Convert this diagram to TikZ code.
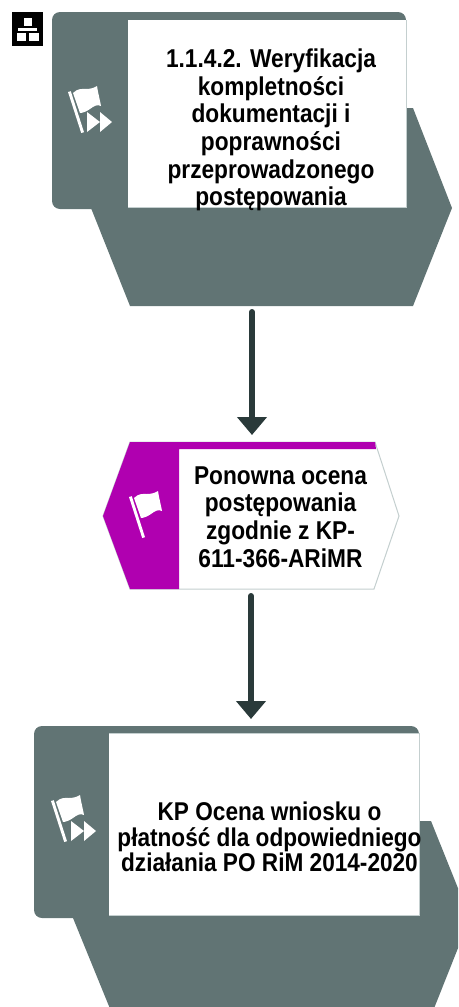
\documentclass[tikz,border=0pt]{standalone}
\usepackage{fontspec}
\setmainfont{Liberation Sans}
\newfontfamily\narrowbold[FakeStretch=0.88,BoldFont={Liberation Sans Bold}]{Liberation Sans Bold}
\usetikzlibrary{arrows.meta}
\definecolor{slate}{HTML}{617474}
\definecolor{plum}{HTML}{B000B0}
\definecolor{ink}{HTML}{2A3A3A}
\definecolor{edgegray}{HTML}{C4CFCF}
\tikzset{
  x=1pt,y=-1pt,
  slatefill/.style={fill=slate,draw=none},
  whitepanel/.style={fill=white,draw=none},
  panelrim/.style={draw=edgegray,line width=1pt},
  label/.style={font=\narrowbold\fontsize{25.8}{27.6}\selectfont,align=center,text=black,inner sep=0pt},
  flow/.style={draw=ink,line width=6pt,line cap=round,-{Triangle[width=29pt,length=18pt,fill=ink]}},
  flagicon/.pic={
    \fill[white] (0,0) -- (2.8,-.8) -- (16,40.2) -- (13.2,41) -- cycle;
    \fill[white] (5,1) .. controls (10,-4) and (14,-3) .. (18,-3)
      .. controls (22,-3) and (26,-4) .. (29,-6)
      .. controls (30,1) and (32,8) .. (33,14)
      .. controls (29,12) and (26,14) .. (22,17)
      .. controls (19,19) and (15,21) .. (12,21) -- cycle;
  },
  ffwd/.pic={
    \fill[white] (19,20) -- (32,30) -- (19,40) -- cycle;
    \fill[white] (32,20) -- (44,30) -- (32,40) -- cycle;
  }
}
\begin{document}
\begin{tikzpicture}
\clip (0,0) rectangle (458,1007);
% tree icon
\fill[black] (11.5,12) rectangle (42.5,46);
\fill[white] (23.5,18) rectangle (32,26);
\fill[white] (18,28) rectangle (36.5,31);
\fill[white] (17,33) rectangle (26,41);
\fill[white] (29,33) rectangle (39,41);
% shape 1
\path[slatefill] (91,208) -- (130,306) -- (413,306) -- (452,208) -- (413,108) -- (130,108) -- cycle;
\path[slatefill,rounded corners=8pt] (52,12) rectangle (406,209);
\path[whitepanel] (128,20) rectangle (406,207);
\draw[panelrim] (406,20) -- (406,207) -- (128,207);
\pic at (68,92) {flagicon};
\pic at (68,92) {ffwd};
\node[label] (t1) at (271,130) {1.1.4.2. Weryfikacja\\kompletności\\dokumentacji i\\poprawności\\przeprowadzonego\\postępowania};
% hexagon 2
\path[fill=white,draw=edgegray,line width=1pt] (130,442) -- (375,442) -- (399,516) -- (374,589) -- (130,589) -- (103,516) -- cycle;
\path[fill=plum] (130,442) -- (375,442) -- (376,449) -- (179,449) -- (179,589) -- (130,589) -- (103,516) -- cycle;
\pic at (129,497) {flagicon};
\node[label] (t2) at (280.5,517) {Ponowna ocena\\postępowania\\zgodnie z KP-\\611-366-ARiMR};
% shape 3
\path[slatefill] (73,918) -- (113,1016) -- (431,1016) -- (470,918) -- (431,821) -- (113,821) -- cycle;
\path[slatefill,rounded corners=8pt] (34,726) rectangle (419,918);
\path[whitepanel] (109,733) rectangle (419,915);
\draw[panelrim] (109,733) -- (419,733) -- (419,915) -- (109,915);
\pic at (51,801) {flagicon};
\pic at (52,801) {ffwd};
\node[label,font=\narrowbold\fontsize{25.7}{25.5}\selectfont] (t3) at (269.5,837) {KP Ocena wniosku o\\płatność dla odpowiedniego\\działania PO RiM 2014-2020};
% connectors
\coordinate (s1) at (252,312);
\coordinate (e1) at (252,435);
\coordinate (s2) at (251,596);
\coordinate (e2) at (251,719);
\draw[flow] (s1) -- (e1);
\draw[flow] (s2) -- (e2);
\end{tikzpicture}
\end{document}
